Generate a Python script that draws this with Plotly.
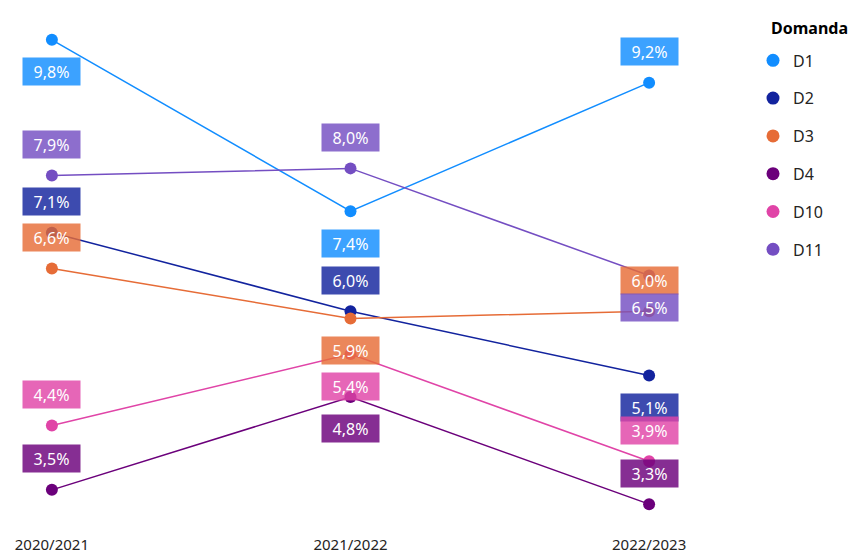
import plotly.graph_objects as go

categories = ["2020/2021", "2021/2022", "2022/2023"]
series_names = ["D1", "D2", "D3", "D4", "D10", "D11"]
d1 = [9.8, 7.4, 9.2]
d2 = [7.1, 6.0, 5.1]
d3 = [6.6, 5.9, 6.0]
d4 = [3.5, 4.8, 3.3]
d10 = [4.4, 5.4, 3.9]
d11 = [7.9, 8.0, 6.5]
values = [d1, d2, d3, d4, d10, d11]
legend_title = "Domanda"

# styling
colors = {"D1": (17, 141, 255), "D2": (18, 35, 158), "D3": (230, 108, 55),
          "D4": (107, 0, 123), "D10": (224, 68, 167), "D11": (116, 78, 194)}
# label side: +1 above, -1 below
label_side = {"D1": [-1, -1, 1], "D2": [1, 1, -1], "D3": [1, -1, 1],
              "D4": [1, -1, 1], "D10": [1, -1, 1], "D11": [1, 1, -1]}

FONT = "Segoe UI, Noto Sans, Open Sans, sans-serif"

fig = go.Figure()
for name, vals in zip(series_names, values):
    r, g, b = colors[name]
    fig.add_trace(go.Scatter(
        x=categories, y=vals, mode="lines+markers", name=name,
        line=dict(color=f"rgb({r},{g},{b})", width=1.5),
        marker=dict(size=12, color=f"rgb({r},{g},{b})"),
        showlegend=False, hoverinfo="skip"))

for name in series_names:
    r, g, b = colors[name]
    fig.add_trace(go.Scatter(
        x=[None], y=[None], mode="markers", name=name, legendgroup=name,
        marker=dict(size=13, color=f"rgb({r},{g},{b})")))

annotations = []
for name, vals in zip(series_names, values):
    r, g, b = colors[name]
    for i, (c, v) in enumerate(zip(categories, vals)):
        side = label_side[name][i]
        annotations.append(dict(
            x=c, y=v, xref="x", yref="y",
            text=f"{v:.1f}%".replace(".", ","),
            showarrow=False, yshift=31 if side > 0 else -32,
            bgcolor=f"rgba({r},{g},{b},0.82)",
            bordercolor=f"rgba({r},{g},{b},0.0)",
            borderpad=3, width=51, height=21,
            font=dict(family=FONT, size=16, color="white")))

annotations.append(dict(
    x=761 / 685, y=1 - 18 / 518, xref="paper", yref="paper",
    xanchor="left", yanchor="middle", showarrow=False,
    text=f"<b>{legend_title}</b>",
    font=dict(family=FONT, size=16, color="black")))

fig.update_layout(
    width=852, height=546,
    margin=dict(l=0, r=167, t=2, b=26),
    paper_bgcolor="white", plot_bgcolor="white",
    font=dict(family=FONT, size=15, color="#252423"),
    annotations=annotations,
    xaxis=dict(type="category", range=[-0.147, 2.147], showgrid=False,
               zeroline=False, showline=False, ticks="outside", ticklen=7,
               tickcolor="rgba(0,0,0,0)",
               tickfont=dict(family=FONT, size=15, color="#252423")),
    yaxis=dict(range=[3.022, 10.217], visible=False),
    legend=dict(x=1.0876, y=0.935, xanchor="left", yanchor="top",
                font=dict(family=FONT, size=16, color="#252423"),
                tracegroupgap=14, itemwidth=30),
)

fig.write_html("out.html")
